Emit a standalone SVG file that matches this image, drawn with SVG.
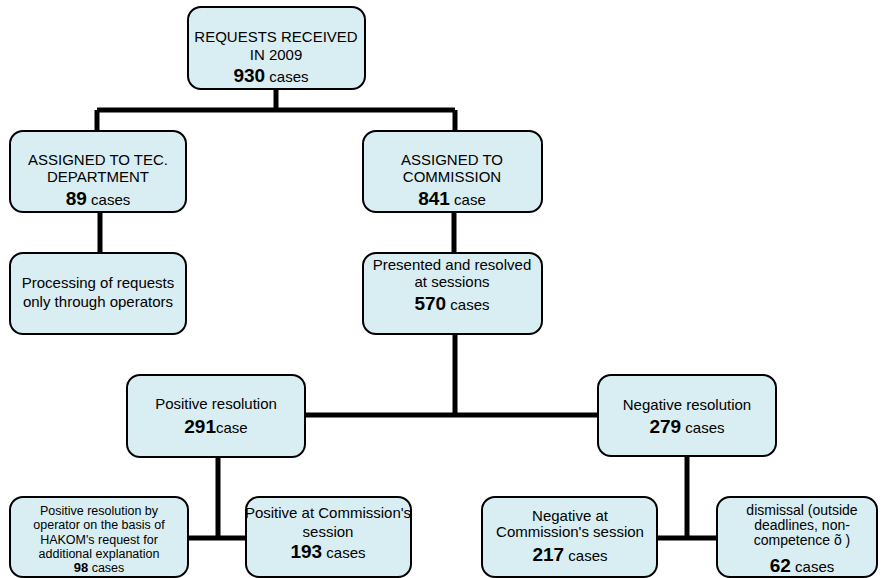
<svg xmlns="http://www.w3.org/2000/svg" width="884" height="578" viewBox="0 0 884 578">
<style>
.box{fill:#d9eef2;stroke:#000;stroke-width:2}
.t{font-family:"Liberation Sans",Arial,sans-serif;font-size:15px;fill:#000;text-anchor:middle}
.s{font-size:12.5px}
.m{font-size:14px}
.b{font-weight:bold;font-size:19px}
.bs{font-weight:bold;font-size:13px}
.c{fill:none;stroke:#000;stroke-width:5}
</style>
<rect width="884" height="578" fill="#fff"/>
<g id="connectors">
<path class="c" d="M276 89V110M97 110H455M97 110V131M455 110V131"/>
<path class="c" d="M100 212V253"/>
<path class="c" d="M454 212V253"/>
<path class="c" d="M455 334V415M305 415H598"/>
<path class="c" d="M218 457V538M188 538H246"/>
<path class="c" d="M687 456V538M657 538H717"/>
</g>
<g id="n-requests">
<rect class="box" x="188" y="7" width="177" height="82" rx="13"/>
<text class="t" x="276" y="42">REQUESTS RECEIVED</text>
<text class="t" x="276" y="60">IN 2009</text>
<text class="t" x="271" y="82"><tspan class="b">930</tspan> cases</text>
</g>
<g id="n-tec">
<rect class="box" x="10" y="131" width="176" height="81" rx="13"/>
<text class="t" x="98" y="165">ASSIGNED TO TEC.</text>
<text class="t" x="98" y="182">DEPARTMENT</text>
<text class="t" x="98" y="205"><tspan class="b">89</tspan> cases</text>
</g>
<g id="n-processing">
<rect class="box" x="10" y="253" width="176" height="81" rx="13"/>
<text class="t" x="98" y="288">Processing of requests</text>
<text class="t" x="98" y="307">only through operators</text>
</g>
<g id="n-commission">
<rect class="box" x="363" y="131" width="179" height="81" rx="13"/>
<text class="t" x="452" y="165">ASSIGNED TO</text>
<text class="t" x="452" y="182">COMMISSION</text>
<text class="t" x="452" y="205"><tspan class="b">841</tspan> case</text>
</g>
<g id="n-presented">
<rect class="box" x="363" y="253" width="179" height="81" rx="13"/>
<text class="t" x="452" y="270">Presented and resolved</text>
<text class="t" x="452" y="287">at sessions</text>
<text class="t" x="452" y="310"><tspan class="b">570</tspan> cases</text>
</g>
<g id="n-positive">
<rect class="box" x="127" y="375" width="178" height="82" rx="13"/>
<text class="t" x="216" y="409">Positive resolution</text>
<text class="t" x="216" y="433"><tspan class="b">291</tspan>case</text>
</g>
<g id="n-negative">
<rect class="box" x="598" y="375" width="178" height="81" rx="13"/>
<text class="t" x="687" y="410">Negative resolution</text>
<text class="t" x="687" y="433"><tspan class="b">279</tspan> cases</text>
</g>
<g id="n-pos-operator">
<rect class="box" x="10" y="497" width="178" height="80" rx="13"/>
<text class="t s" x="99" y="515">Positive resolution by</text>
<text class="t s" x="99" y="529">operator on the basis of</text>
<text class="t s" x="99" y="544">HAKOM's request for</text>
<text class="t s" x="99" y="558">additional explanation</text>
<text class="t s" x="99" y="572"><tspan class="bs">98</tspan> cases</text>
</g>
<g id="n-pos-session">
<rect class="box" x="246" y="497" width="165" height="80" rx="13"/>
<text class="t" x="328" y="518">Positive at Commission's</text>
<text class="t" x="328" y="537">session</text>
<text class="t" x="328" y="558"><tspan class="b">193</tspan> cases</text>
</g>
<g id="n-neg-session">
<rect class="box" x="482" y="497" width="175" height="80" rx="13"/>
<text class="t" x="570" y="521">Negative at</text>
<text class="t" x="570" y="537">Commission's session</text>
<text class="t" x="570" y="561"><tspan class="b">217</tspan> cases</text>
</g>
<g id="n-dismissal">
<rect class="box" x="717" y="497" width="160" height="80" rx="13"/>
<text class="t m" x="802" y="515">dismissal (outside</text>
<text class="t m" x="802" y="530">deadlines, non-</text>
<text class="t m" x="802" y="545">competence õ )</text>
<text class="t" x="802" y="572"><tspan class="b">62</tspan> cases</text>
</g>
</svg>
